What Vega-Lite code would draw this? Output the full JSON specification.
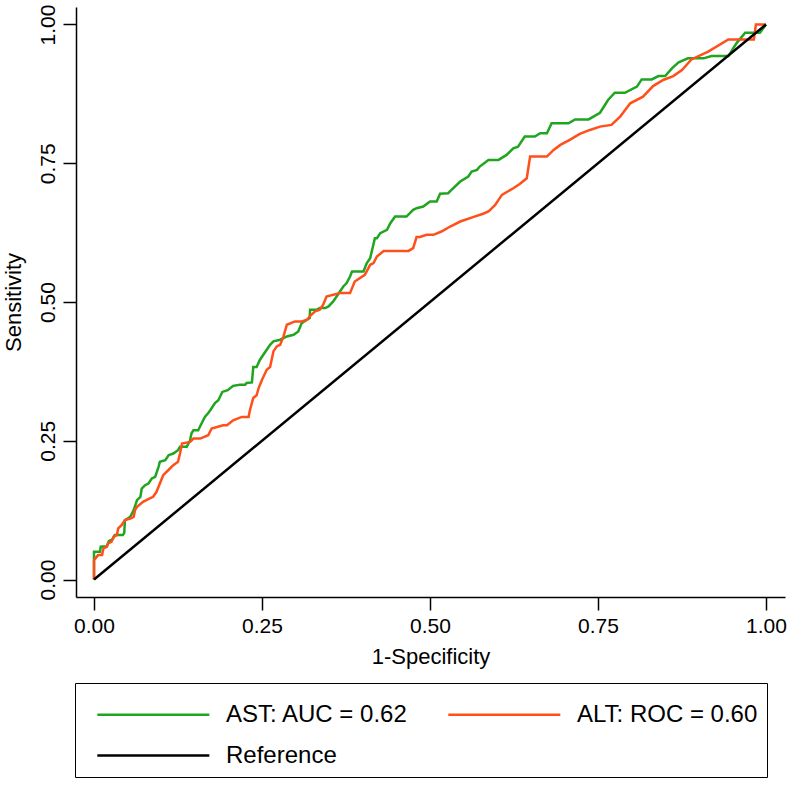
{
  "$schema": "https://vega.github.io/schema/vega-lite/v6.json",
  "width": 709,
  "height": 590,
  "autosize": {"type": "none"},
  "padding": {"left": 76, "top": 7, "right": 7, "bottom": 191},
  "background": "white",
  "config": {
    "view": {"stroke": null},
    "font": "Liberation Sans",
    "axis": {
      "grid": false,
      "domainColor": "#000000",
      "domainWidth": 1.5,
      "tickColor": "#000000",
      "tickWidth": 1.5,
      "tickSize": 13,
      "labelColor": "#000000",
      "labelFontSize": 21,
      "labelFlush": false,
      "labelOverlap": false,
      "titleColor": "#000000",
      "titleFontSize": 22,
      "titleFontWeight": "normal"
    }
  },
  "datasets": {
    "ast": [
      {"x":0,"y":0},{"x":0,"y":0.05},{"x":0.009,"y":0.05},{"x":0.01,"y":0.059},{"x":0.019,"y":0.06},{"x":0.022,"y":0.069},{"x":0.028,"y":0.073},{"x":0.031,"y":0.08},{"x":0.043,"y":0.08},{"x":0.045,"y":0.084},{"x":0.046,"y":0.107},{"x":0.054,"y":0.113},{"x":0.059,"y":0.125},{"x":0.064,"y":0.143},{"x":0.069,"y":0.149},{"x":0.071,"y":0.164},{"x":0.076,"y":0.17},{"x":0.081,"y":0.173},{"x":0.086,"y":0.182},{"x":0.091,"y":0.185},{"x":0.096,"y":0.203},{"x":0.098,"y":0.212},{"x":0.106,"y":0.215},{"x":0.111,"y":0.224},{"x":0.118,"y":0.227},{"x":0.125,"y":0.233},{"x":0.128,"y":0.239},{"x":0.138,"y":0.239},{"x":0.143,"y":0.251},{"x":0.145,"y":0.263},{"x":0.148,"y":0.269},{"x":0.155,"y":0.269},{"x":0.16,"y":0.281},{"x":0.165,"y":0.293},{"x":0.17,"y":0.3},{"x":0.173,"y":0.305},{"x":0.18,"y":0.318},{"x":0.185,"y":0.323},{"x":0.191,"y":0.338},{"x":0.199,"y":0.341},{"x":0.207,"y":0.349},{"x":0.217,"y":0.351},{"x":0.225,"y":0.351},{"x":0.227,"y":0.354},{"x":0.235,"y":0.355},{"x":0.237,"y":0.383},{"x":0.242,"y":0.383},{"x":0.247,"y":0.396},{"x":0.252,"y":0.405},{"x":0.257,"y":0.414},{"x":0.262,"y":0.423},{"x":0.267,"y":0.429},{"x":0.277,"y":0.432},{"x":0.287,"y":0.438},{"x":0.297,"y":0.441},{"x":0.304,"y":0.447},{"x":0.309,"y":0.462},{"x":0.317,"y":0.468},{"x":0.321,"y":0.471},{"x":0.3215,"y":0.486},{"x":0.331,"y":0.486},{"x":0.336,"y":0.489},{"x":0.344,"y":0.489},{"x":0.349,"y":0.492},{"x":0.356,"y":0.501},{"x":0.361,"y":0.51},{"x":0.366,"y":0.519},{"x":0.371,"y":0.528},{"x":0.376,"y":0.534},{"x":0.381,"y":0.546},{"x":0.384,"y":0.555},{"x":0.401,"y":0.555},{"x":0.406,"y":0.57},{"x":0.411,"y":0.579},{"x":0.418,"y":0.615},{"x":0.421,"y":0.615},{"x":0.426,"y":0.624},{"x":0.436,"y":0.63},{"x":0.441,"y":0.642},{"x":0.448,"y":0.654},{"x":0.465,"y":0.654},{"x":0.475,"y":0.666},{"x":0.48,"y":0.669},{"x":0.49,"y":0.672},{"x":0.5,"y":0.681},{"x":0.51,"y":0.681},{"x":0.515,"y":0.695},{"x":0.527,"y":0.696},{"x":0.532,"y":0.702},{"x":0.545,"y":0.717},{"x":0.557,"y":0.726},{"x":0.562,"y":0.735},{"x":0.57,"y":0.738},{"x":0.574,"y":0.744},{"x":0.587,"y":0.756},{"x":0.602,"y":0.756},{"x":0.614,"y":0.765},{"x":0.624,"y":0.777},{"x":0.631,"y":0.78},{"x":0.641,"y":0.798},{"x":0.656,"y":0.798},{"x":0.664,"y":0.804},{"x":0.674,"y":0.804},{"x":0.681,"y":0.822},{"x":0.706,"y":0.822},{"x":0.716,"y":0.829},{"x":0.736,"y":0.829},{"x":0.753,"y":0.841},{"x":0.765,"y":0.864},{"x":0.775,"y":0.877},{"x":0.79,"y":0.877},{"x":0.808,"y":0.888},{"x":0.815,"y":0.901},{"x":0.83,"y":0.901},{"x":0.84,"y":0.907},{"x":0.85,"y":0.907},{"x":0.86,"y":0.921},{"x":0.87,"y":0.932},{"x":0.884,"y":0.939},{"x":0.907,"y":0.939},{"x":0.919,"y":0.943},{"x":0.944,"y":0.943},{"x":0.956,"y":0.966},{"x":0.969,"y":0.985},{"x":0.991,"y":0.985},{"x":1,"y":1}
    ],
    "alt": [
      {"x":0,"y":0},{"x":0,"y":0.035},{"x":0.006,"y":0.044},{"x":0.012,"y":0.044},{"x":0.014,"y":0.056},{"x":0.019,"y":0.059},{"x":0.021,"y":0.065},{"x":0.026,"y":0.068},{"x":0.029,"y":0.077},{"x":0.034,"y":0.08},{"x":0.036,"y":0.092},{"x":0.041,"y":0.098},{"x":0.046,"y":0.107},{"x":0.054,"y":0.11},{"x":0.059,"y":0.113},{"x":0.061,"y":0.125},{"x":0.064,"y":0.131},{"x":0.073,"y":0.14},{"x":0.083,"y":0.146},{"x":0.088,"y":0.149},{"x":0.093,"y":0.158},{"x":0.098,"y":0.173},{"x":0.103,"y":0.188},{"x":0.113,"y":0.2},{"x":0.118,"y":0.206},{"x":0.125,"y":0.212},{"x":0.128,"y":0.227},{"x":0.131,"y":0.245},{"x":0.143,"y":0.248},{"x":0.148,"y":0.254},{"x":0.158,"y":0.254},{"x":0.17,"y":0.26},{"x":0.175,"y":0.272},{"x":0.192,"y":0.278},{"x":0.198,"y":0.278},{"x":0.207,"y":0.287},{"x":0.22,"y":0.293},{"x":0.23,"y":0.293},{"x":0.232,"y":0.305},{"x":0.237,"y":0.327},{"x":0.242,"y":0.332},{"x":0.245,"y":0.345},{"x":0.25,"y":0.36},{"x":0.252,"y":0.365},{"x":0.257,"y":0.378},{"x":0.262,"y":0.383},{"x":0.267,"y":0.411},{"x":0.272,"y":0.42},{"x":0.277,"y":0.423},{"x":0.282,"y":0.438},{"x":0.287,"y":0.459},{"x":0.299,"y":0.465},{"x":0.309,"y":0.465},{"x":0.317,"y":0.468},{"x":0.321,"y":0.474},{"x":0.329,"y":0.483},{"x":0.336,"y":0.486},{"x":0.341,"y":0.495},{"x":0.346,"y":0.51},{"x":0.366,"y":0.516},{"x":0.381,"y":0.516},{"x":0.388,"y":0.537},{"x":0.403,"y":0.549},{"x":0.411,"y":0.567},{"x":0.416,"y":0.57},{"x":0.421,"y":0.582},{"x":0.431,"y":0.592},{"x":0.445,"y":0.592},{"x":0.468,"y":0.592},{"x":0.475,"y":0.597},{"x":0.48,"y":0.617},{"x":0.485,"y":0.617},{"x":0.495,"y":0.621},{"x":0.505,"y":0.621},{"x":0.517,"y":0.627},{"x":0.53,"y":0.636},{"x":0.545,"y":0.645},{"x":0.564,"y":0.653},{"x":0.579,"y":0.659},{"x":0.587,"y":0.663},{"x":0.597,"y":0.675},{"x":0.607,"y":0.693},{"x":0.624,"y":0.705},{"x":0.634,"y":0.713},{"x":0.644,"y":0.723},{"x":0.649,"y":0.762},{"x":0.674,"y":0.762},{"x":0.684,"y":0.774},{"x":0.694,"y":0.783},{"x":0.708,"y":0.792},{"x":0.723,"y":0.803},{"x":0.738,"y":0.81},{"x":0.753,"y":0.816},{"x":0.77,"y":0.819},{"x":0.783,"y":0.834},{"x":0.798,"y":0.858},{"x":0.817,"y":0.87},{"x":0.832,"y":0.889},{"x":0.847,"y":0.9},{"x":0.862,"y":0.907},{"x":0.875,"y":0.918},{"x":0.889,"y":0.937},{"x":0.914,"y":0.951},{"x":0.944,"y":0.973},{"x":0.982,"y":0.973},{"x":0.985,"y":1},{"x":1,"y":1}
    ],
    "ref": [
      {"x":0,"y":0},{"x":1,"y":1}
    ]
  },
  "encoding": {
    "x": {
      "field": "x", "type": "quantitative",
      "scale": {"domain": [-0.0268, 1.0283], "nice": false, "zero": false},
      "axis": {"values": [0, 0.25, 0.5, 0.75, 1], "format": ".2f", "title": "1-Specificity", "labelPadding": 5, "titleBaseline": "top", "titleY": 49}
    },
    "y": {
      "field": "y", "type": "quantitative",
      "scale": {"domain": [-0.0315, 1.0315], "nice": false, "zero": false},
      "axis": {"values": [0, 0.25, 0.5, 0.75, 1], "format": ".2f", "title": "Sensitivity", "labelAngle": 270, "labelAlign": "center", "labelBaseline": "alphabetic", "labelPadding": 9, "titleAngle": 270, "titleBaseline": "alphabetic", "titleX": -56}
    }
  },
  "layer": [
    {
      "data": {"name": "ast"},
      "mark": {"type": "line", "strokeWidth": 2.5},
      "encoding": {
        "color": {
          "datum": "AST: AUC = 0.62",
          "type": "nominal",
          "scale": {"domain": ["AST: AUC = 0.62", "ALT: ROC = 0.60", "Reference"], "range": ["#1fa51f", "#ff4f1a", "#000000"]},
          "legend": {
            "title": " ",
            "titleFontSize": 8,
            "titlePadding": 2,
            "orient": "none",
            "direction": "horizontal",
            "legendX": -1,
            "legendY": 676,
            "columns": 2,
            "symbolType": "M-1,0H9",
            "symbolSize": 502,
            "symbolStrokeWidth": 2.5,
            "symbolOffset": 12,
            "labelFontSize": 24,
            "labelColor": "#000000",
            "labelOffset": 105,
            "labelLimit": 400,
            "rowPadding": 16,
            "columnPadding": 26,
            "padding": 9,
            "strokeColor": "#000000",
            "fillColor": "white"
          }
        }
      }
    },
    {"data": {"name": "alt"}, "mark": {"type": "line", "strokeWidth": 2.5}, "encoding": {"color": {"datum": "ALT: ROC = 0.60", "type": "nominal"}}},
    {"data": {"name": "ref"}, "mark": {"type": "line", "strokeWidth": 2.5}, "encoding": {"color": {"datum": "Reference", "type": "nominal"}}}
  ]
}
